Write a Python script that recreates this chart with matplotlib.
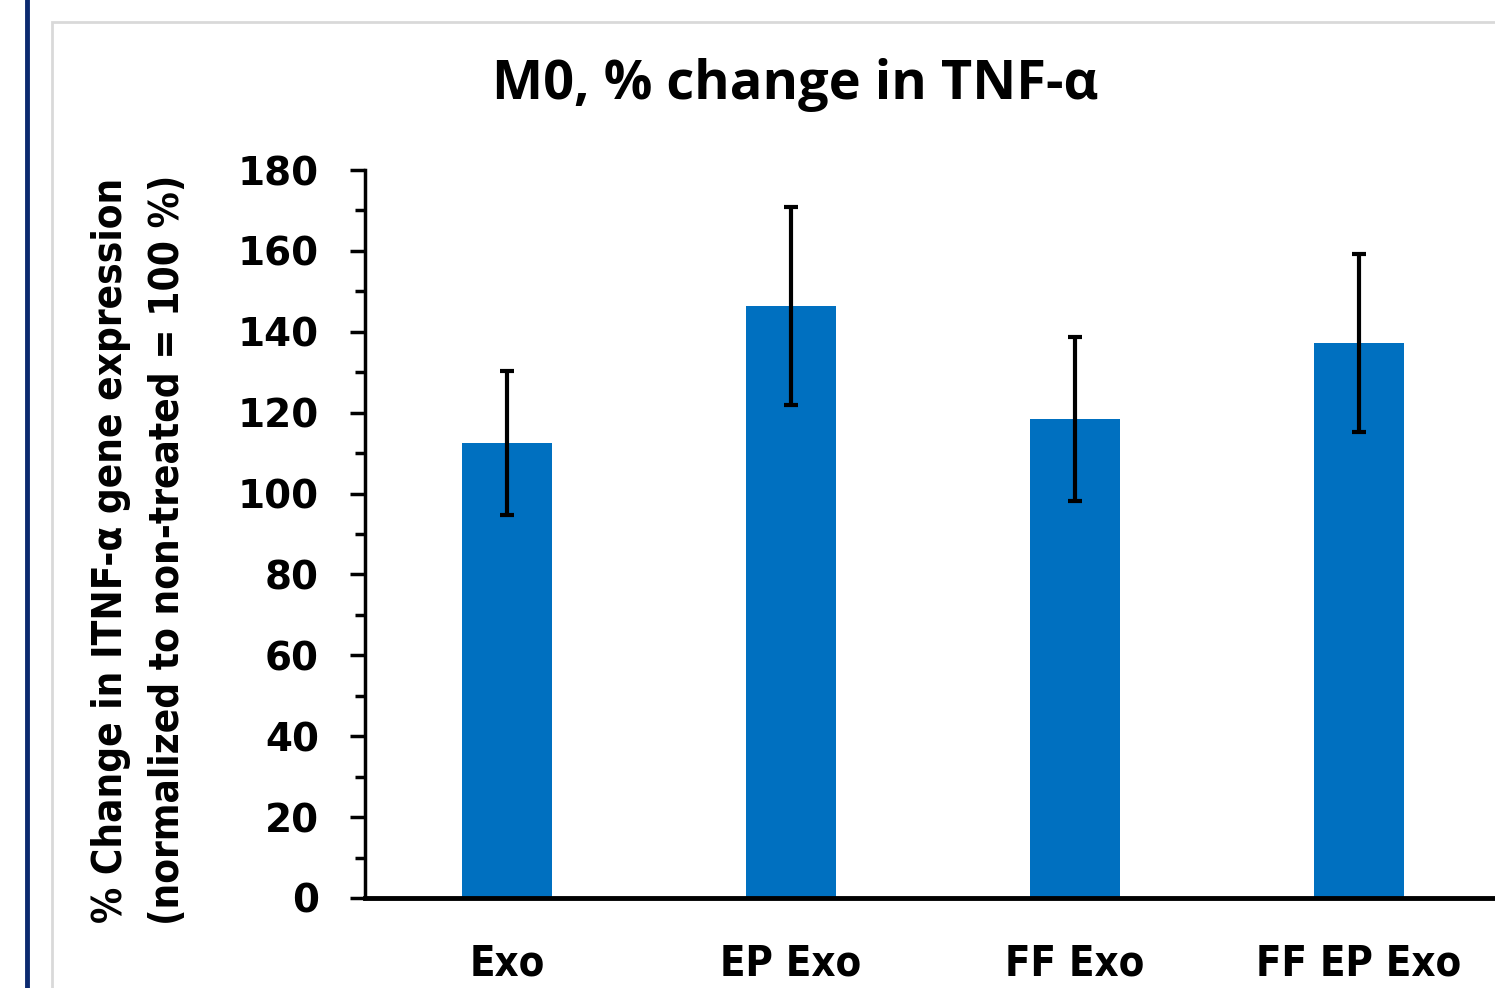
import matplotlib
matplotlib.use('Agg')

import numpy as np
import matplotlib.pyplot as plt
from matplotlib.patches import Rectangle
from matplotlib.lines import Line2D
from matplotlib.ticker import MultipleLocator

groups = ["Exo", "EP Exo", "FF Exo", "FF EP Exo"]
means = [112.5, 146.4, 118.4, 137.2]
errors = [17.7, 24.5, 20.2, 22.0]

narrow = ['Liberation Sans Narrow', 'DejaVu Sans']

fig = plt.figure(figsize=(14.95, 9.88), dpi=100)

# outer decorations: navy rule on the left and the light grey chart frame
fig.add_artist(Line2D([0.018, 0.018], [0, 1], color='#0b2a6f', lw=3.5,
                      transform=fig.transFigure))
fig.add_artist(Rectangle((0.035, -0.1), 1.2, 1.078, transform=fig.transFigure,
                         fill=False, edgecolor='#d9d9d9', lw=2))

ax = fig.add_axes([0.2441, 0.0911, 0.7599, 0.7368])
x = np.arange(len(groups))
ax.bar(x, means, width=0.317, color='#0070C0')
ax.errorbar(x, means, yerr=errors, fmt='none', ecolor='black',
            elinewidth=3, capsize=5, capthick=3)

ax.set_xlim(-0.5, 3.5)
ax.set_ylim(0, 180)
ax.yaxis.set_major_locator(MultipleLocator(20))
ax.yaxis.set_minor_locator(MultipleLocator(10))

for s in ['top', 'right']:
    ax.spines[s].set_visible(False)
ax.spines['left'].set_linewidth(2.5)
ax.spines['bottom'].set_linewidth(3.5)

ax.tick_params(axis='y', which='major', length=11, width=2.5, pad=22)
ax.tick_params(axis='y', which='minor', length=7, width=2.5)
ax.tick_params(axis='x', length=0, pad=32)

ax.set_xticks(x)
ax.set_xticklabels(groups, fontsize=30, fontweight='bold', family=narrow,
                   fontstretch='condensed')
for lab in ax.get_yticklabels():
    lab.set_fontsize(28)
    lab.set_fontweight('bold')

ax.set_ylabel("% Change in ITNF-\u03b1 gene expression\n(normalized to non-treated = 100 %)",
              fontsize=29, fontweight='bold', family=narrow, fontstretch='condensed',
              labelpad=36, linespacing=1.55)
ax.yaxis.label.set_y(0.478)

fig.text(0.532, 0.914, "M0, % change in TNF-\u03b1", ha='center', va='center',
         fontsize=39, fontweight='bold', family=['Open Sans', 'DejaVu Sans'])

fig.savefig("out.png", dpi=100)
